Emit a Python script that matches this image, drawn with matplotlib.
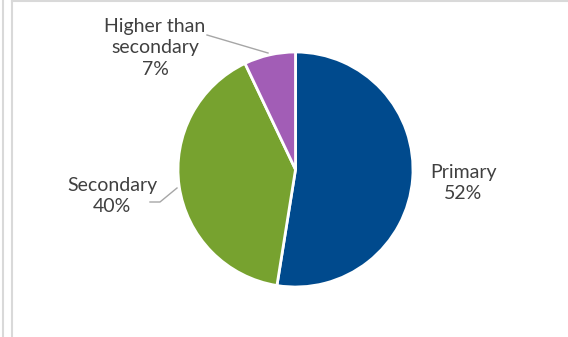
import matplotlib
matplotlib.use("Agg")
import matplotlib.pyplot as plt
from matplotlib.lines import Line2D

categories = ["Primary", "Secondary", "Higher than\nsecondary"]
values = [52, 40, 7]
pct_labels = ["52%", "40%", "7%"]
colors = ["#004A8D", "#77A22F", "#A25DB6"]

W, H = 568, 337
fig = plt.figure(figsize=(W / 100, H / 100), dpi=100)
ax = fig.add_axes([0, 0, 1, 1])

cx, cy, r = 295.5, H - 169.5, 117.5
ax.pie(values, colors=colors, startangle=90, counterclock=False,
       center=(cx, cy), radius=r, frame=True,
       wedgeprops=dict(edgecolor="white", linewidth=2.0))
ax.set_xlim(0, W)
ax.set_ylim(0, H)
ax.axis("off")

font = dict(family=["Lato", "DejaVu Sans"], fontsize=14, color="#404040",
            ha="center", va="center", linespacing=1.32)
ax.text(463, H - 183, f"{categories[0]}\n{pct_labels[0]}", **font)
ax.text(112, H - 196, f"{categories[1]}\n{pct_labels[1]}", **font)
ax.text(155, H - 48, f"{categories[2]}\n{pct_labels[2]}", **font)

lc = "#A6A6A6"
ax.plot([207, 268], [H - 35, H - 53], color=lc, lw=1.0)
ax.plot([150, 160, 177], [H - 202, H - 202, H - 188], color=lc, lw=1.0)

# frame lines
fig.add_artist(Line2D([3 / W, 3 / W], [0, 1], color="#D9D9D9", lw=1.5))
fig.add_artist(Line2D([12 / W, 12 / W], [0, 1], color="#D9D9D9", lw=1.5))
fig.add_artist(Line2D([12 / W, 1], [1 - 0.7 / H, 1 - 0.7 / H], color="#D9D9D9", lw=1.5))

fig.savefig("out.png", dpi=100, facecolor="white")
